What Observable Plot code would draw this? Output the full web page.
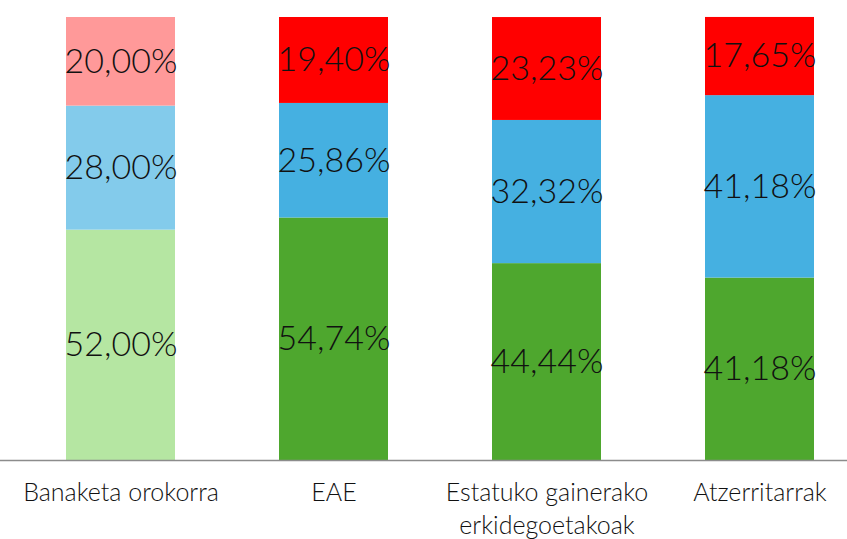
<!DOCTYPE html>
<html>
<head>
<meta charset="utf-8">
<script src="https://cdn.jsdelivr.net/npm/d3@7"></script>
<script src="https://cdn.jsdelivr.net/npm/@observablehq/plot@0.6"></script>
<style>
  html, body { margin: 0; padding: 0; background: #fff; }
  #chart svg { display: block; }
</style>
</head>
<body>
<div id="chart"></div>
<script>
const categories = ["Banaketa orokorra", "EAE", "Estatuko gainerako erkidegoetakoak", "Atzerritarrak"];
const categoryLabels = ["Banaketa orokorra", "EAE", "Estatuko gainerako\nerkidegoetakoak", "Atzerritarrak"];
const seriesNames = ["green", "blue", "red"]; // stacking order bottom → top
const greenValues = [52.00, 54.74, 44.44, 41.18];
const blueValues = [28.00, 25.86, 32.32, 41.18];
const redValues = [20.00, 19.40, 23.23, 17.65];

const palette = {
  "Banaketa orokorra": {green: "#B5E6A2", blue: "#83CBEB", red: "#FF9999"},
  other: {green: "#4EA72E", blue: "#45B0E1", red: "#FF0000"}
};

const seriesValues = {green: greenValues, blue: blueValues, red: redValues};
const rows = [];
seriesNames.forEach((s, si) => {
  categories.forEach((c, ci) => {
    const p = palette[c] || palette.other;
    rows.push({category: c, series: s, order: si, value: seriesValues[s][ci], color: p[s]});
  });
});

const fmt = v => v.toFixed(2).replace(".", ",") + "%";
const labelOf = Object.fromEntries(categories.map((c, i) => [c, categoryLabels[i]]));

const W = 847, H = 539;
const chart = Plot.plot({
  width: W,
  height: H,
  marginTop: 17,
  marginBottom: 79,
  marginLeft: 0,
  marginRight: 0,
  style: {fontFamily: "Lato, sans-serif", background: "#fff"},
  x: {domain: categories, range: [14, 866], paddingInner: 0.49, paddingOuter: 0.245, align: 0.5, label: null},
  y: {domain: [0, 100], axis: null},
  marks: [
    Plot.barY(rows, Plot.stackY({
      x: "category", y: "value", fill: "color", order: "order"
    })),
    Plot.text(rows, Plot.stackY({
      x: "category", y: "value", order: "order",
      text: d => fmt(d.value), fontSize: 34, fill: "#111", fontWeight: 300
    })),
    Plot.ruleY([0], {stroke: "#8c8c8c", strokeWidth: 1.5}),
    Plot.axisX({
      tickSize: 0, tickPadding: 17, fontSize: 25, fill: "#111", fontWeight: 300,
      tickFormat: c => labelOf[c], lineHeight: 1.32, textAnchor: "middle"
    })
  ]
});
document.getElementById("chart").appendChild(chart);
</script>
</body>
</html>
